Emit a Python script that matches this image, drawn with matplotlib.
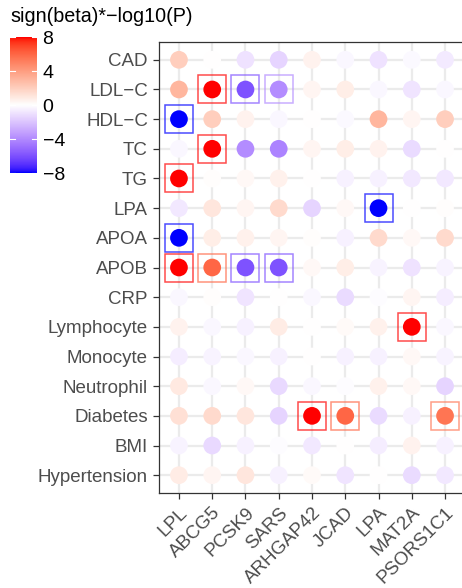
import numpy as np
import matplotlib
matplotlib.use("Agg")
import matplotlib.pyplot as plt
from matplotlib.colors import ListedColormap, Normalize

plt.rcParams['font.family'] = ['Liberation Sans', 'DejaVu Sans']

genes = ["LPL", "ABCG5", "PCSK9", "SARS", "ARHGAP42", "JCAD", "LPA", "MAT2A", "PSORS1C1"]
traits = ["CAD", "LDL\u2212C", "HDL\u2212C", "TC", "TG", "LPA", "APOA", "APOB", "CRP",
          "Lymphocyte", "Monocyte", "Neutrophil", "Diabetes", "BMI", "Hypertension"]

# sign(beta)*-log10(P), rows = traits, cols = genes (clipped to +-8)
cad          = [ 2.0,  0.0, -1.0, -1.5,  0.5, -0.3, -1.0, -0.2, -0.7]
ldl_c        = [ 3.0,  8.0, -6.0, -4.0,  0.4,  0.7, -0.3, -0.9, -0.3]
hdl_c        = [-8.0,  2.0,  0.5, -0.3,  0.0, -0.2,  3.0,  0.4,  2.0]
tc           = [-0.3,  8.0, -4.0, -4.3,  0.4,  0.7,  0.5, -1.2,  0.0]
tg           = [ 8.0,  0.1,  0.3,  0.6,  0.0, -0.5, -0.5, -0.8, -0.8]
lpa          = [-0.8,  1.0,  0.4,  1.5, -1.5,  0.3, -8.0,  0.0,  0.1]
apoa         = [-8.0,  0.7,  0.6,  0.4,  0.1, -0.5,  1.5,  0.3,  1.5]
apob         = [ 8.0,  6.0, -6.0, -6.0,  0.3,  0.7, -0.4, -1.0, -0.4]
crp          = [-0.3,  0.1, -0.9,  0.0, -0.3, -1.2, -0.1,  0.4, -0.6]
lymphocyte   = [ 0.5, -0.3, -0.5,  0.8,  0.0,  0.2,  0.6,  8.0, -0.3]
monocyte     = [-0.6, -0.4, -0.3, -0.5,  0.0, -0.5, -0.5,  0.3, -0.4]
neutrophil   = [ 0.9, -0.3,  0.3, -1.3, -0.3, -0.1,  0.6,  0.3, -1.5]
diabetes     = [ 1.3,  1.5,  1.0, -1.5,  8.0,  6.0, -1.2, -0.5,  5.5]
bmi          = [-0.4, -1.3, -0.5, -0.1, -0.8,  0.0, -0.6,  0.5, -0.5]
hypertension = [ 0.8,  0.4,  1.0, -0.5,  0.2, -0.9,  0.0, -1.2, -0.8]

# significant cells (boxed): trait index, gene index
sig_trait = [1, 1, 1, 2, 3, 4, 5, 6, 7, 7, 7, 7, 9, 12, 12, 12]
sig_gene  = [1, 2, 3, 0, 1, 0, 6, 0, 0, 1, 2, 3, 7, 4, 5, 8]

values = np.array([cad, ldl_c, hdl_c, tc, tg, lpa, apoa, apob, crp,
                   lymphocyte, monocyte, neutrophil, diabetes, bmi, hypertension])

# ---- Lab-space diverging gradient (blue - white - red), like ggplot2 gradient2
def srgb_to_lab(rgb):
    rgb = np.asarray(rgb, float)
    lin = np.where(rgb <= 0.04045, rgb / 12.92, ((rgb + 0.055) / 1.055) ** 2.4)
    M = np.array([[0.4124564, 0.3575761, 0.1804375],
                  [0.2126729, 0.7151522, 0.0721750],
                  [0.0193339, 0.1191920, 0.9503041]])
    xyz = lin @ M.T
    wp = np.array([0.95047, 1.0, 1.08883])
    t = xyz / wp
    d = 6 / 29
    f = np.where(t > d ** 3, np.cbrt(t), t / (3 * d * d) + 4 / 29)
    L = 116 * f[..., 1] - 16
    a = 500 * (f[..., 0] - f[..., 1])
    b = 200 * (f[..., 1] - f[..., 2])
    return np.stack([L, a, b], -1)

def lab_to_srgb(lab):
    lab = np.asarray(lab, float)
    fy = (lab[..., 0] + 16) / 116
    fx = fy + lab[..., 1] / 500
    fz = fy - lab[..., 2] / 200
    d = 6 / 29
    def finv(f):
        return np.where(f > d, f ** 3, 3 * d * d * (f - 4 / 29))
    wp = np.array([0.95047, 1.0, 1.08883])
    xyz = np.stack([finv(fx), finv(fy), finv(fz)], -1) * wp
    Minv = np.array([[3.2404542, -1.5371385, -0.4985314],
                     [-0.9692660, 1.8760108, 0.0415560],
                     [0.0556434, -0.2040259, 1.0572252]])
    lin = xyz @ Minv.T
    lin = np.clip(lin, 0, 1)
    rgb = np.where(lin <= 0.0031308, 12.92 * lin, 1.055 * lin ** (1 / 2.4) - 0.055)
    return np.clip(rgb, 0, 1)

lab_blue = srgb_to_lab([0, 0, 1])
lab_white = srgb_to_lab([1, 1, 1])
lab_red = srgb_to_lab([1, 0, 0])
n = 256
tt = np.linspace(0, 1, n)
cols = []
for t in tt:
    if t < 0.5:
        u = t / 0.5
        lab = lab_blue + (lab_white - lab_blue) * u
    else:
        u = (t - 0.5) / 0.5
        lab = lab_white + (lab_red - lab_white) * u
    cols.append(lab_to_srgb(lab))
cmap = ListedColormap(np.array(cols))
norm = Normalize(vmin=-8, vmax=8)

fig = plt.figure(figsize=(4.62, 5.88), dpi=100)
ax = fig.add_axes([159 / 462, 1 - 493 / 588, 306 / 462, 451 / 588])

nx, ny = len(genes), len(traits)
ax.set_xlim(-0.6, nx - 1 + 0.6)
ax.set_ylim(ny - 1 + 0.6, -0.6)
ax.set_xticks(range(nx))
ax.set_yticks(range(ny))
ax.set_xticklabels(genes, rotation=45, ha='right', va='top', rotation_mode='anchor')
ax.set_yticklabels(traits)
ax.tick_params(axis='both', labelsize=13.5, colors='#333333', length=4.5, width=0.9,
               labelcolor='#4d4d4d')
ax.grid(True, color='#ebebeb', linewidth=1.6, zorder=0)
ax.set_axisbelow(True)
for s in ax.spines.values():
    s.set_color('#333333')
    s.set_linewidth(0.9)
ax.spines['right'].set_visible(False)

xx, yy = np.meshgrid(np.arange(nx), np.arange(ny))
ax.scatter(xx.ravel(), yy.ravel(), c=values.ravel(), cmap=cmap, norm=norm,
           s=(17.7 * 0.72) ** 2, marker='o', linewidths=0, zorder=3)

for ti, gi in zip(sig_trait, sig_gene):
    col = cmap(norm(values[ti, gi]))
    ax.plot(gi, ti, marker='s', markersize=20.0, markerfacecolor='none',
            markeredgecolor=col, markeredgewidth=1.1, alpha=0.7, zorder=4)

# colorbar
cax = fig.add_axes([10 / 462, 1 - 173 / 588, 27 / 462, 136 / 588])
grad = np.linspace(-8, 8, 300).reshape(-1, 1)
cax.imshow(grad, cmap=cmap, norm=norm, aspect='auto', origin='lower',
           extent=[0, 1, -8, 8])
cax.set_xlim(0, 1)
cax.set_ylim(-8, 8)
cax.set_xticks([])
cax.yaxis.tick_right()
cax.set_yticks([-8, -4, 0, 4, 8])
cax.set_yticklabels(["\u22128", "\u22124", "0", "4", "8"])
cax.tick_params(axis='y', length=0, labelsize=14, labelcolor='black', pad=4)
for s in cax.spines.values():
    s.set_visible(False)
for v in [-8, -4, 0, 4, 8]:
    cax.plot([0, 0.18], [v, v], color='white', lw=0.8)
    cax.plot([0.82, 1], [v, v], color='white', lw=0.8)

fig.text(10 / 462, 1 - 17 / 588, "sign(beta)*\u2212log10(P)", fontsize=14.2,
         ha='left', va='center', color='black')

fig.savefig("out.png", dpi=100)
